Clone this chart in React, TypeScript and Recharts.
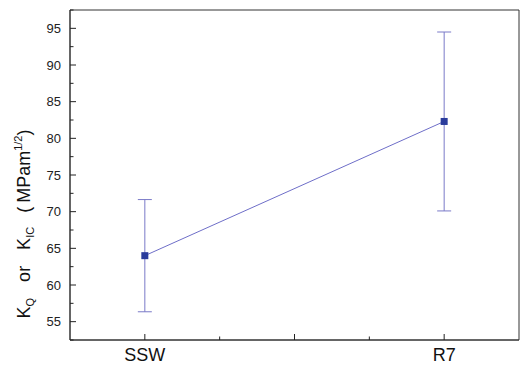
import { ComposedChart, Line, ErrorBar, XAxis, YAxis, ReferenceArea } from "recharts"

const categories = ["SSW", "R7"]
const positions = [1, 3]
const kValues = [64.0, 82.3]
const kErrors = [7.65, 12.2]
const xTicks = [1, 1.5, 2, 2.5, 3]
const yTicks = [52.5, 55, 57.5, 60, 62.5, 65, 67.5, 70, 72.5, 75, 77.5, 80, 82.5, 85, 87.5, 90, 92.5, 95, 97.5]

const data = categories.map((name, i) => ({
  name,
  x: positions[i],
  k: kValues[i],
  err: kErrors[i],
}))

const font = "Arial, 'Liberation Sans', sans-serif"

function YTick(props: any) {
  const { x, y, payload } = props
  const major = payload.value % 5 === 0
  return (
    <g>
      <line x1={x} x2={x + (major ? 6 : 3.5)} y1={y} y2={y} stroke="#222" strokeWidth={1} />
      {major && (
        <text x={x - 9} y={y + 4.5} textAnchor="end" fontSize={13} fontFamily={font} fill="#222">
          {payload.value}
        </text>
      )}
    </g>
  )
}

function XTick(props: any) {
  const { x, y, payload } = props
  const idx = positions.indexOf(payload.value)
  const major = Number.isInteger(payload.value)
  return (
    <g>
      <line x1={x} x2={x} y1={y} y2={y - (major ? 6 : 3.5)} stroke="#222" strokeWidth={1} />
      {idx >= 0 && (
        <text x={x} y={y + 21} textAnchor="middle" fontSize={18} fontFamily={font} fill="#111">
          {categories[idx]}
        </text>
      )}
    </g>
  )
}

function YLabel(props: any) {
  const { viewBox } = props
  const cy = viewBox.y + viewBox.height / 2 + 49
  const cx = 30
  return (
    <text
      x={cx}
      y={cy}
      transform={`rotate(-90, ${cx}, ${cy})`}
      textAnchor="middle"
      fontSize={18}
      fontFamily={font}
      fill="#111"
    >
      K<tspan fontSize={11} dy={4}>Q</tspan>
      <tspan dy={-4} dx={16}>or</tspan>
      <tspan dx={16}>K</tspan>
      <tspan fontSize={11} dy={4}>IC</tspan>
      <tspan dy={-4} dx={14}>(</tspan>
      <tspan dx={4}>MPam</tspan>
      <tspan fontSize={11} dy={-8}>1/2</tspan>
      <tspan dy={8}>)</tspan>
    </text>
  )
}

function SquareDot(props: any) {
  const { cx, cy } = props
  if (cx == null || cy == null) return null
  return <rect x={cx - 3.5} y={cy - 3.5} width={7} height={7} fill="#2a3c9c" />
}

export default function App() {
  return (
    <div style={{ position: "absolute", left: 0, top: 0, background: "#fff" }}>
      <ComposedChart width={520} height={365} data={data} margin={{ top: 10, right: 1, bottom: 0, left: 10 }}>
        <ReferenceArea x1={0.5} x2={3.5} y1={52.5} y2={97.5} fill="none" stroke="#333" strokeWidth={1} />
        <XAxis
          dataKey="x"
          type="number"
          domain={[0.5, 3.5]}
          ticks={xTicks}
          allowDataOverflow
          height={25}
          stroke="#333"
          tickLine={false}
          tickSize={0}
          tickMargin={0}
          tick={<XTick />}
          interval={0}
        />
        <YAxis
          type="number"
          domain={[52.5, 97.5]}
          ticks={yTicks}
          allowDataOverflow
          width={60}
          stroke="#333"
          tickLine={false}
          tickSize={0}
          tickMargin={0}
          tick={<YTick />}
          interval={0}
          label={{ content: <YLabel /> }}
        />
        <Line
          dataKey="k"
          type="linear"
          stroke="#6e6ec8"
          strokeWidth={1}
          dot={<SquareDot />}
          activeDot={false}
          isAnimationActive={false}
        >
          <ErrorBar dataKey="err" direction="y" width={7} stroke="#7a7ac8" strokeWidth={1} />
        </Line>
      </ComposedChart>
    </div>
  )
}
